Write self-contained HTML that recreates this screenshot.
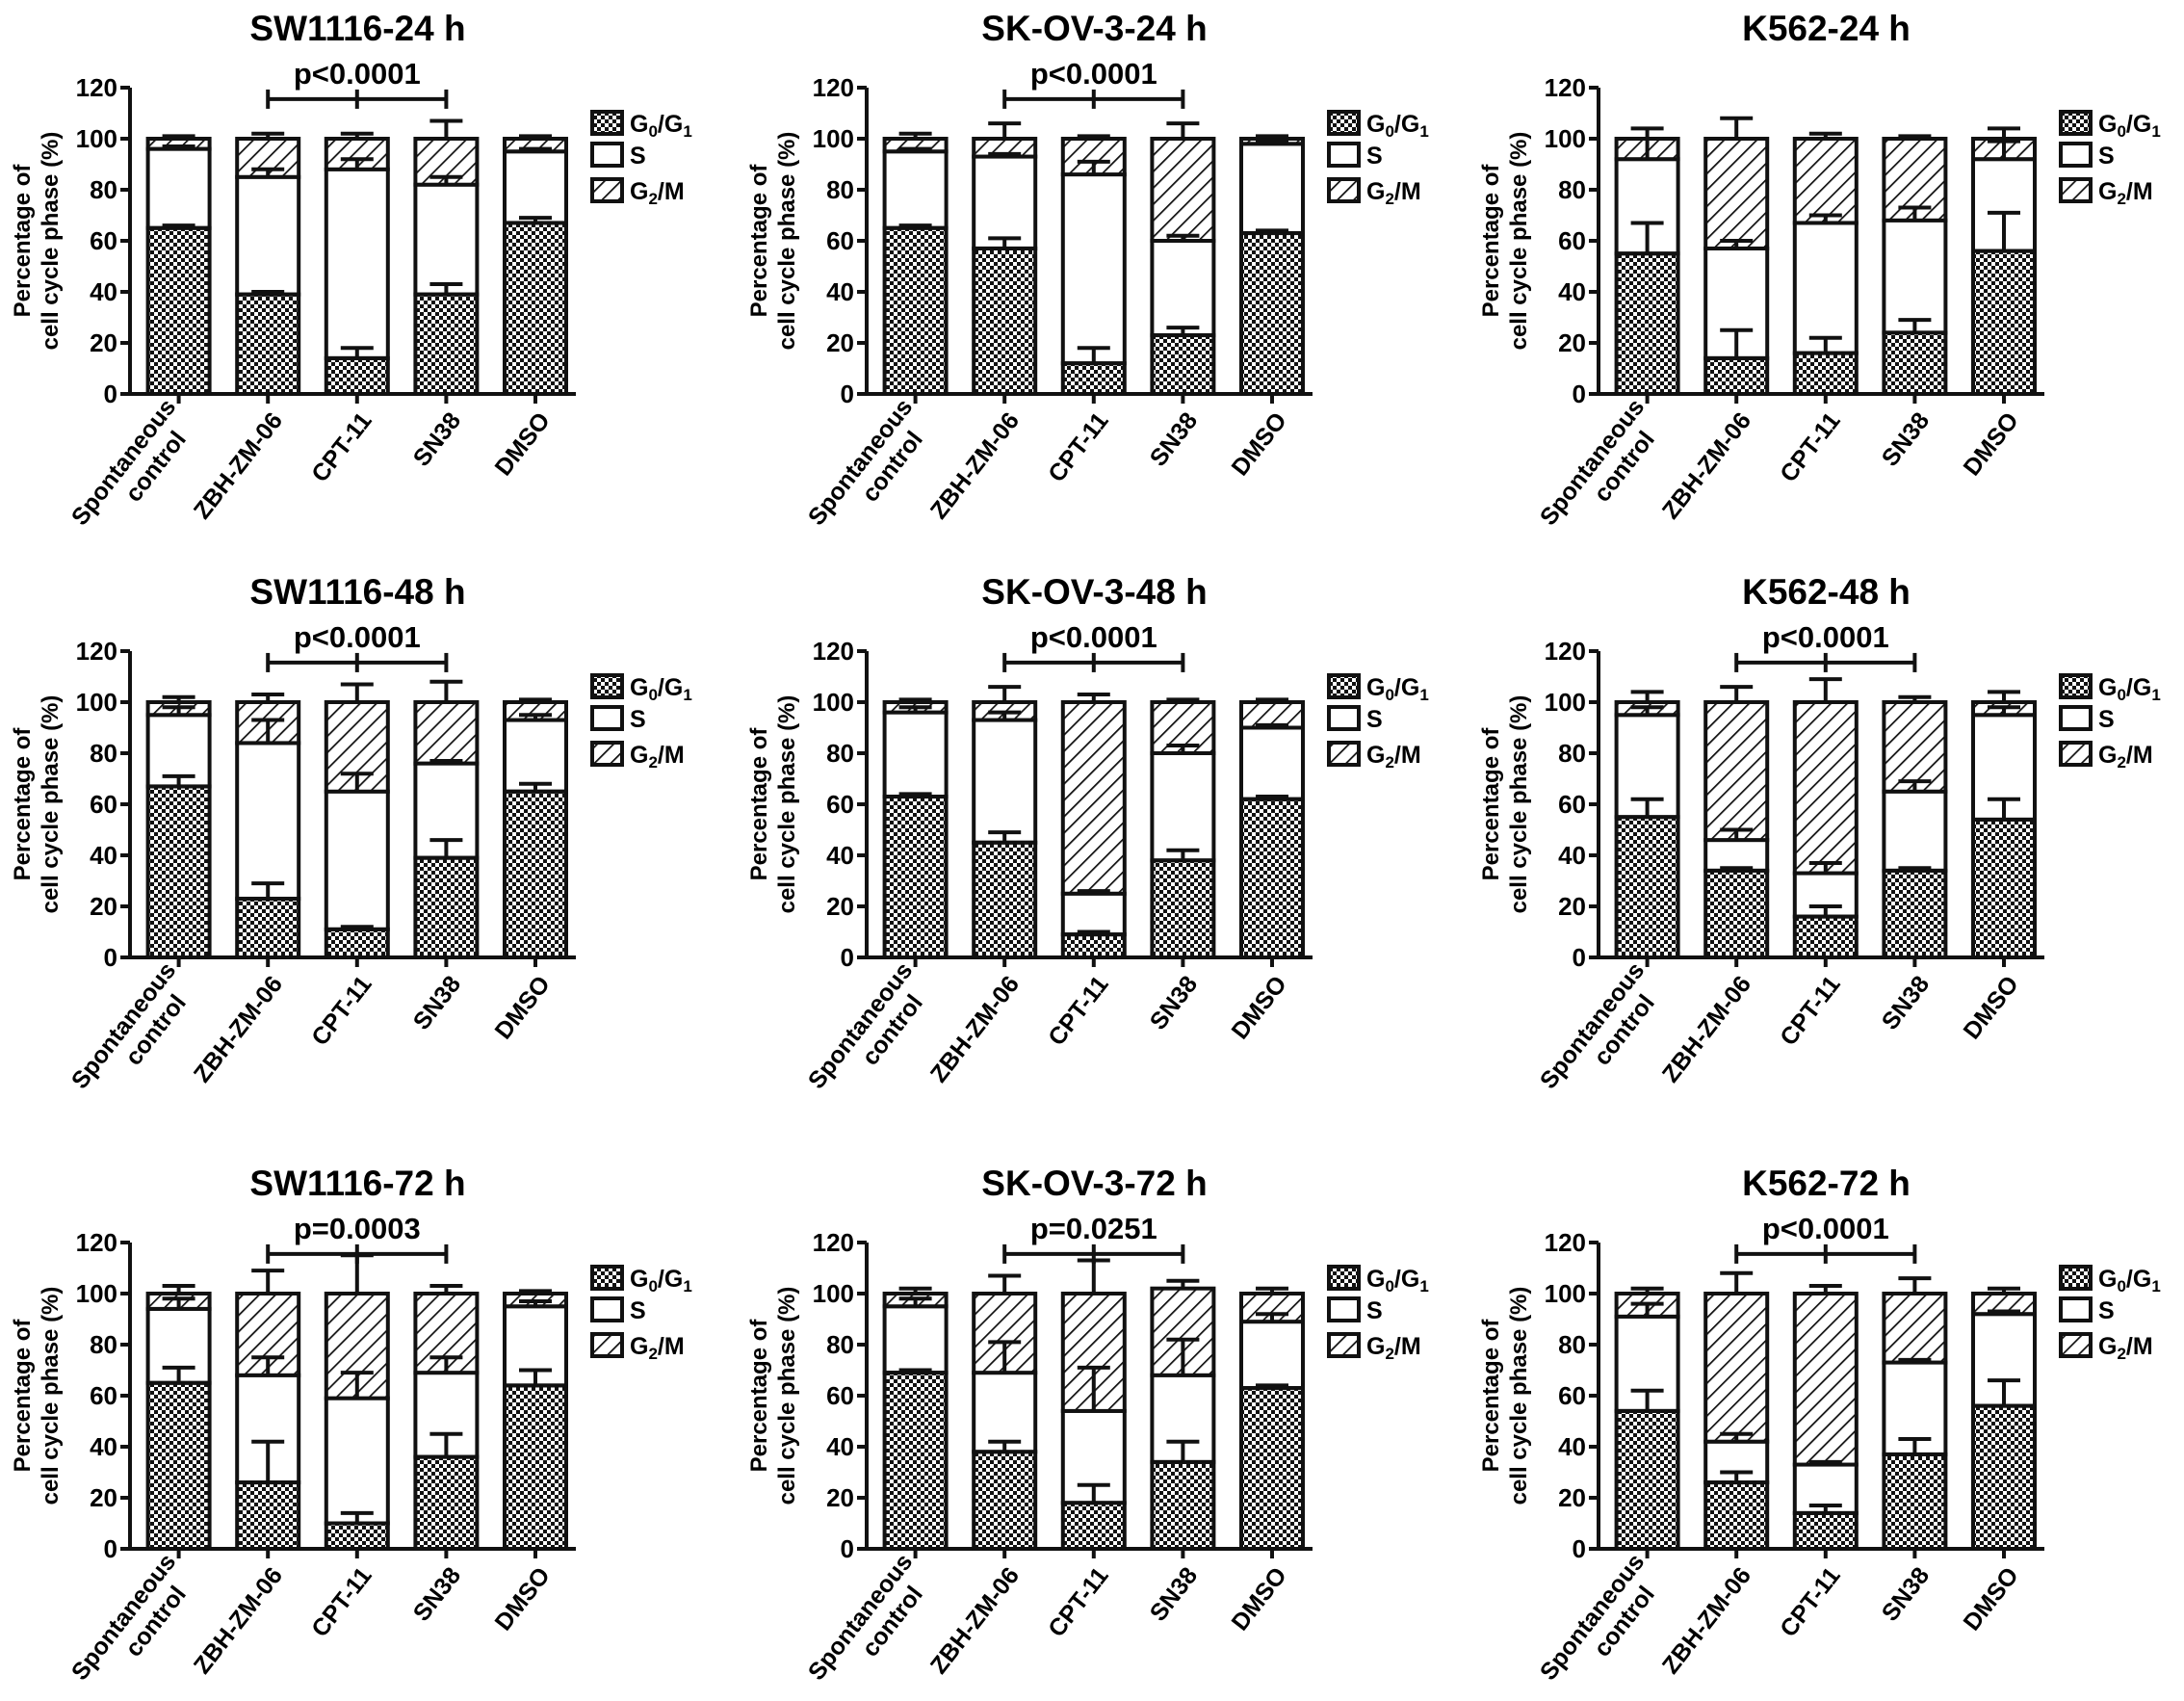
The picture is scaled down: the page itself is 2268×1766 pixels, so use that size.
<!DOCTYPE html>
<html><head><meta charset="utf-8"><style>
html,body{margin:0;padding:0;background:#fff}
svg{display:block;font-family:"Liberation Sans",Arial,sans-serif;font-weight:bold}
</style></head><body>
<svg id="chart" width="2268" height="1766" viewBox="0 0 2268 1766" xmlns="http://www.w3.org/2000/svg">
<defs>
<pattern id="check" width="8" height="8" patternUnits="userSpaceOnUse"><rect width="8" height="8" fill="#fff"/><rect width="4" height="4" fill="#111"/><rect x="4" y="4" width="4" height="4" fill="#111"/></pattern>
<pattern id="hatch" width="12" height="12" patternUnits="userSpaceOnUse" patternTransform="rotate(45)"><rect width="12" height="12" fill="#fff"/><line x1="0" y1="0" x2="0" y2="12" stroke="#111" stroke-width="3.5"/></pattern>
</defs>
</svg>
<script>
const categories = ["Spontaneous control","ZBH-ZM-06","CPT-11","SN38","DMSO"];
const titles = ["SW1116-24 h","SK-OV-3-24 h","K562-24 h","SW1116-48 h","SK-OV-3-48 h","K562-48 h","SW1116-72 h","SK-OV-3-72 h","K562-72 h"];
const pvalues = ["p<0.0001","p<0.0001","","p<0.0001","p<0.0001","p<0.0001","p=0.0003","p=0.0251","p<0.0001"];
const yTicks = [0,20,40,60,80,100,120];
const g0Values = [
 [65,39,14,39,67],[65,57,12,23,63],[55,14,16,24,56],
 [67,23,11,39,65],[63,45,9,38,62],[55,34,16,34,54],
 [65,26,10,36,64],[69,38,18,34,63],[54,26,14,37,56]];
const sTopValues = [
 [96,85,88,82,95],[95,93,86,60,98],[92,57,67,68,92],
 [95,84,65,76,93],[96,93,25,80,90],[95,46,33,65,95],
 [94,68,59,69,95],[95,69,54,68,89],[91,42,33,73,92]];
const totalValues = [
 [100,100,100,100,100],[100,100,100,100,100],[100,100,100,100,100],
 [100,100,100,100,100],[100,100,100,100,100],[100,100,100,100,100],
 [100,100,100,100,100],[100,100,100,102,100],[100,100,100,100,100]];
const g0Err = [
 [1,1,4,4,2],[1,4,6,3,1],[12,11,6,5,15],
 [4,6,1,7,3],[1,4,1,4,1],[7,1,4,1,8],
 [6,16,4,9,6],[1,4,7,8,1],[8,4,3,6,10]];
const sErr = [
 [1,3,4,3,1],[1,1,5,2,1],[8,3,3,5,7],
 [3,9,7,1,2],[2,3,1,3,1],[3,4,4,4,3],
 [4,7,10,6,2],[3,12,17,14,3],[5,3,1,1,1]];
const totErr = [
 [1,2,2,7,1],[2,6,1,6,1],[4,8,2,1,4],
 [2,3,7,8,1],[1,6,3,1,1],[4,6,9,2,4],
 [3,9,15,3,1],[2,7,13,3,2],[2,8,3,6,2]];

const svg = document.getElementById('chart');
const NS = "http://www.w3.org/2000/svg";
function mk(tag, attrs, parent){const e=document.createElementNS(NS,tag);for(const k in attrs)e.setAttribute(k,attrs[k]);(parent||svg).appendChild(e);return e;}
const colX=[135,900,1660], rowY0=[409,994,1608], H=318, AXLEN=463, STEP=92.6, OFF0=50.6, BW=64, SW=4;

titles.forEach((title,p)=>{
  const ox=colX[p%3], oy=rowY0[Math.floor(p/3)];
  const g=mk('g',{});
  
  
  const y=v=>oy-v/120*H;
  const x=i=>ox+OFF0+i*STEP;
  const t=mk('text',{x:ox+AXLEN/2+5,y:oy-H-49,'font-size':37,'text-anchor':'middle'},g);t.textContent=title;
  
  
  mk('line',{x1:ox,y1:oy,x2:ox+AXLEN,y2:oy,stroke:'#111','stroke-width':SW},g);
  mk('line',{x1:ox,y1:oy+2,x2:ox,y2:y(120),stroke:'#111','stroke-width':SW},g);
  yTicks.forEach(v=>{
    mk('line',{x1:ox-10,y1:y(v),x2:ox,y2:y(v),stroke:'#111','stroke-width':SW},g);
    const tt=mk('text',{x:ox-13,y:y(v)+9,'font-size':26,'text-anchor':'end'},g);tt.textContent=v;
    
    
  });
  const yl=mk('text',{transform:`translate(${ox-104},${y(60)}) rotate(-90)`,'font-size':24,'text-anchor':'middle'},g);
  
  
  const a=mk('tspan',{x:0,dy:0},yl);a.textContent='Percentage of';
  const b=mk('tspan',{x:0,dy:29},yl);b.textContent='cell cycle phase (%)';
  categories.forEach((c,i)=>{
    const cx=x(i), l=cx-BW/2;
    mk('line',{x1:cx,y1:oy,x2:cx,y2:oy+10,stroke:'#111','stroke-width':SW},g);
    const g0=g0Values[p][i], st=sTopValues[p][i], tot=totalValues[p][i];
    const r1=mk('rect',{x:l,y:y(g0),width:BW,height:y(0)-y(g0),fill:'url(#check)',stroke:'#111','stroke-width':SW},g);
    
    
    const r2=mk('rect',{x:l,y:y(st),width:BW,height:y(g0)-y(st),fill:'#fff','fill-opacity':0,stroke:'#111','stroke-width':SW},g);
    
    
    const r3=mk('rect',{x:l,y:y(tot),width:BW,height:y(st)-y(tot),fill:'url(#hatch)',stroke:'#111','stroke-width':SW},g);
    
    
    [[g0,g0Err[p][i]],[st,sErr[p][i]],[tot,totErr[p][i]]].forEach(([v,e])=>{
      if(e>0){mk('line',{x1:cx,y1:y(v),x2:cx,y2:y(v+e),stroke:'#111','stroke-width':SW},g);
      mk('line',{x1:cx-17,y1:y(v+e),x2:cx+17,y2:y(v+e),stroke:'#111','stroke-width':SW},g);}
    });
    const lines=c.split(' ');
    const xl=mk('text',{transform:`translate(${cx+9},${oy+22}) rotate(-52)`,'font-size':25,'text-anchor':'end'},g);
    
    
    lines.forEach((s,k)=>{const ts=mk('tspan',{x:0,dy:k?29:(lines.length>1?-14:9)},xl);ts.textContent=s;});
    if(lines.length>1){xl.childNodes[1].setAttribute('x',-20);}
  });
  if(pvalues[p]){
    const by=y(115.5);
    const br=mk('g',{},g);
    
    
    mk('line',{x1:x(1),y1:by,x2:x(3),y2:by,stroke:'#111','stroke-width':SW},br);
    [1,2,3].forEach(i=>mk('line',{x1:x(i),y1:by-10,x2:x(i),y2:by+10,stroke:'#111','stroke-width':SW},br));
    const pt=mk('text',{x:x(2),y:by-16,'font-size':31,'text-anchor':'middle'},br);pt.textContent=pvalues[p];
  }
  const lx=ox+480, ly=y(120);
  const leg=[['url(#check)','G','0','/G','1'],['#fff','S'],['url(#hatch)','G','2','/M']];
  [25,58,95].forEach((dy,k)=>{
    const e=mk('g',{},g);
    
    
    mk('rect',{x:lx,y:ly+dy,width:31,height:23,fill:leg[k][0],stroke:'#111','stroke-width':SW},e);
    const tx=mk('text',{x:lx+39,y:ly+dy+21,'font-size':25},e);
    const parts=leg[k].slice(1);
    parts.forEach((s,j)=>{const ts=mk('tspan',(j%2==1)?{'font-size':17,dy:5}:{'font-size':25,dy:j?-5:0},tx);ts.textContent=s;});
  });
});
</script>
</body></html>
